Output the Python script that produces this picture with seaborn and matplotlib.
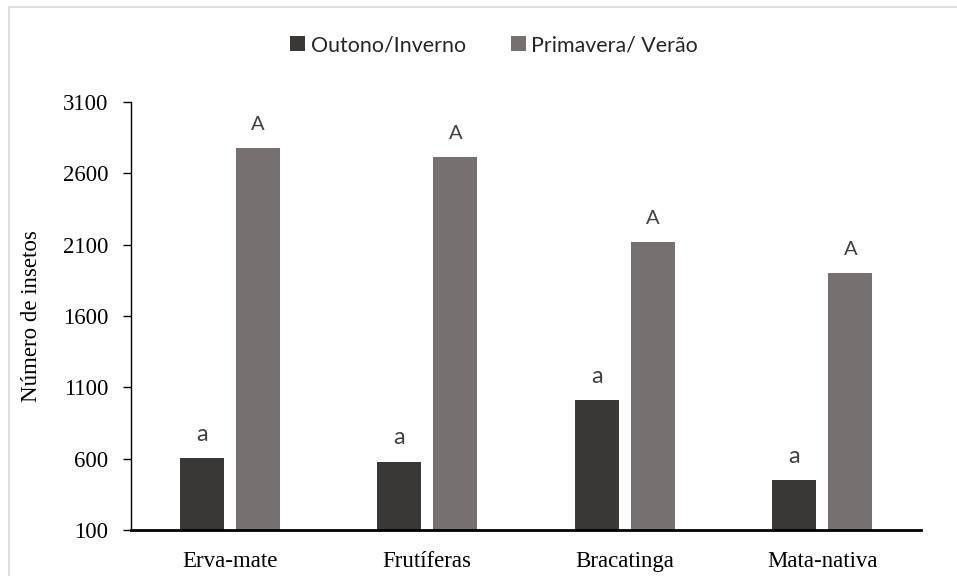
import matplotlib
matplotlib.use("Agg")
import matplotlib.pyplot as plt
from matplotlib.patches import Rectangle
import pandas as pd
import seaborn as sns

# Data: insect counts per site and season
categories = ["Erva-mate", "Frutíferas", "Bracatinga", "Mata-nativa"]
seasons = ["Outono/Inverno", "Primavera/ Verão"]
outono_inverno = [602, 579, 1011, 450]
primavera_verao = [2775, 2716, 2120, 1899]
letters_outono = ["a", "a", "a", "a"]
letters_primavera = ["A", "A", "A", "A"]
y_ticks = [100, 600, 1100, 1600, 2100, 2600, 3100]

colors = {"Outono/Inverno": "#3a3836", "Primavera/ Verão": "#767170"}

df = pd.DataFrame({
    "local": categories * 2,
    "estacao": [seasons[0]] * len(categories) + [seasons[1]] * len(categories),
    "insetos": outono_inverno + primavera_verao,
})

sns.set_theme(style="white")
plt.rcParams["font.family"] = ["Liberation Serif", "DejaVu Serif"]

fig = plt.figure(figsize=(9.57, 5.76), dpi=100)
ax = fig.add_axes([131 / 957, 1 - 530 / 576, (921 - 131) / 957, (530 - 102) / 576])

sns.barplot(data=df, x="local", y="insetos", hue="estacao", order=categories,
            hue_order=seasons, palette=colors, width=0.57, gap=0.215,
            linewidth=0, saturation=1, ax=ax, legend=True)

ax.set_ylim(100, 3100)
ax.set_yticks(y_ticks)
ax.set_yticklabels([str(t) for t in y_ticks])
ax.set_xlim(-0.5, len(categories) - 0.5)

# Significance letters above the bars
letter_styles = [(letters_outono, 17, 9.5), (letters_primavera, 14.5, 11)]
for container, (labs, size, pad) in zip(ax.containers, letter_styles):
    ax.bar_label(container, labels=labs, padding=pad, fontsize=size,
                 color="#404040", family=["Lato", "DejaVu Sans"])

for side in ["top", "right"]:
    ax.spines[side].set_visible(False)
ax.spines["left"].set_color("black")
ax.spines["left"].set_linewidth(1.0)
ax.spines["bottom"].set_color("black")
ax.spines["bottom"].set_linewidth(2.0)

ax.tick_params(axis="y", which="both", left=True, length=6, width=1.0,
               color="black", pad=10.5, labelsize=16.5, labelcolor="black")
ax.tick_params(axis="x", bottom=False, pad=9, labelsize=16.5, labelcolor="black")

ax.set_xlabel("")
ax.set_ylabel("Número de insetos", fontsize=16.5, color="black", labelpad=15)

handles, labels = ax.get_legend_handles_labels()
ax.legend_.remove()
fig.legend(handles, labels, loc="center", bbox_to_anchor=(494 / 957, 1 - 45 / 576),
           ncol=2, frameon=False, handlelength=0.7, handleheight=0.7,
           handletextpad=0.25, columnspacing=2.1,
           prop={"family": ["Lato", "DejaVu Sans"], "size": 15.4})

# Light grey frame around the chart area
fig.patches.append(Rectangle((8.5 / 957, -0.1), 1.2, 1.1 - 7 / 576,
                             transform=fig.transFigure, fill=False,
                             edgecolor="#d9d9d9", linewidth=1.2))

fig.savefig("out.png", dpi=100, facecolor="white")
